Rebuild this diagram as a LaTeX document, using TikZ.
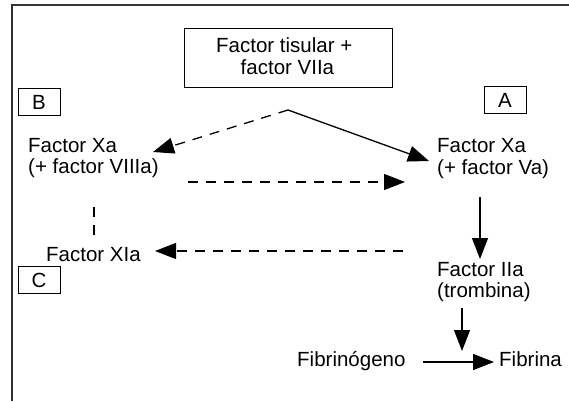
\documentclass[tikz,border=0pt]{standalone}
\usepackage{fontspec}
\setmainfont{Liberation Sans}
\usetikzlibrary{arrows.meta}
\begin{document}
\begin{tikzpicture}[x=1pt,y=-1pt,
  lbl/.style={font=\fontsize{20.5}{21.5}\selectfont, align=left, inner sep=0pt, anchor=base west},
  letterbox/.style={draw, line width=1pt, minimum width=42pt, minimum height=27pt, inner sep=0pt, font=\fontsize{20.5}{21.5}\selectfont},
  conn/.style={line width=1.3pt},
  dsh/.style={line width=1.3pt, dash pattern=on 10pt off 8pt},
  tip/.style={-{Triangle[length=21pt,width=16pt]}}]
\useasboundingbox (0,0) rectangle (569,401);
\draw[line width=2pt, color=black!80] (11.5,401) -- (11.5,5) -- (569,5);
% top box
\node[draw, line width=1pt, minimum width=208pt, minimum height=59pt, inner sep=0pt] (tf) at (288,58.5) {};
\node[lbl] (tf1) at (216,53) {Factor tisular +};
\node[lbl] (tf2) at (240.5,75) {factor VIIa};
\node[letterbox] (B) at (39,102) {B};
\node[letterbox] (A) at (505,100) {A};
\node[letterbox] (C) at (39,280) {C};
\coordinate (split) at (288,110);
% multi-line nodes: base anchor is the baseline of the last line
\node[lbl] (xaL) at (28,173.5) {Factor Xa\\(+ factor VIIIa)};
\node[lbl] (xaR) at (437,174) {Factor Xa\\(+ factor Va)};
\node[lbl] (xia) at (46,261) {Factor XIa};
\node[lbl] (iia) at (437,297.5) {Factor IIa\\(trombina)};
\node[lbl] (fg) at (297,366) {Fibrinógeno};
\node[lbl] (fb) at (499,366) {Fibrina};
% connectors
\coordinate (tL) at (153,152);
\coordinate (tR) at (429,161);
\draw[dsh, tip] (split) -- (tL);
\draw[conn, tip] (split) -- (tR);
\coordinate (h1s) at (188,182);
\coordinate (h1e) at (405,182);
\draw[dsh, tip] (h1s) -- (h1e);
\coordinate (v1s) at (94,207);
\coordinate (v1e) at (94,239);
\draw[dsh] (v1s) -- (v1e);
\coordinate (h2s) at (403,251);
\coordinate (h2e) at (155,251);
\draw[dsh, tip] (h2s) -- (h2e);
\coordinate (d1s) at (480,197);
\coordinate (d1e) at (480,259);
\draw[conn, tip] (d1s) -- (d1e);
\coordinate (d2s) at (462,308);
\coordinate (d2e) at (462,351);
\draw[conn, tip] (d2s) -- (d2e);
\coordinate (h3s) at (423,362);
\coordinate (h3e) at (494,362);
\draw[conn, tip] (h3s) -- (h3e);
\end{tikzpicture}
\end{document}
